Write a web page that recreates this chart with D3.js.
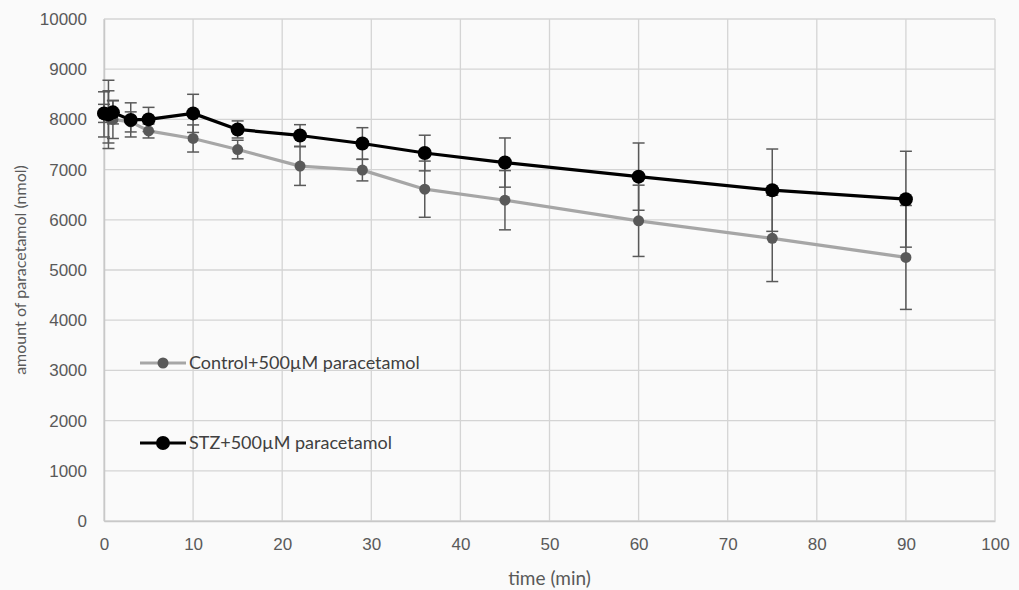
<!DOCTYPE html>
<html>
<head>
<meta charset="utf-8">
<script src="https://cdn.jsdelivr.net/npm/d3@7"></script>
<style>
  html, body { margin: 0; padding: 0; background: #fafafa; }
  svg { display: block; font-family: Lato, "Open Sans", sans-serif; }
</style>
</head>
<body>
<div id="chart"></div>
<script>
// sampling times (min)
const times = [0, 0.5, 1, 3, 5, 10, 15, 22, 29, 36, 45, 60, 75, 90];

const controlValues = [8100, 8050, 8000, 7950, 7770, 7620, 7400, 7070, 6990, 6610, 6390, 5980, 5630, 5250];
const controlErrors = [450, 520, 380, 200, 140, 270, 185, 385, 215, 560, 590, 710, 860, 1035];

const stzValues = [8120, 8100, 8140, 7990, 8000, 8120, 7800, 7680, 7520, 7330, 7140, 6860, 6590, 6410];
const stzErrors = [180, 680, 230, 340, 240, 380, 170, 215, 315, 355, 490, 670, 820, 955];

const xTicks = [0, 10, 20, 30, 40, 50, 60, 70, 80, 90, 100];
const yTicks = [0, 1000, 2000, 3000, 4000, 5000, 6000, 7000, 8000, 9000, 10000];

const series = [
  { name: "Control+500\u00b5M paracetamol", values: controlValues, errors: controlErrors,
    line: "#a6a6a6", marker: "#595959", r: 5.5, legendY: 363 },
  { name: "STZ+500\u00b5M paracetamol", values: stzValues, errors: stzErrors,
    line: "#000000", marker: "#000000", r: 7, legendY: 443 }
];

const width = 1019, height = 590;
const margin = { top: 19, right: 24, bottom: 69, left: 104 };

const svg = d3.select("#chart").append("svg")
  .attr("width", width)
  .attr("height", height);

const x = d3.scaleLinear().domain([0, 100]).range([margin.left, width - margin.right]);
const y = d3.scaleLinear().domain([0, 10000]).range([height - margin.bottom, margin.top]);

// grid
const grid = svg.append("g").attr("stroke", "#d4d4d4").attr("stroke-width", 1.3);
grid.selectAll("line.h").data(yTicks).join("line")
  .attr("x1", x(0)).attr("x2", x(100))
  .attr("y1", d => y(d)).attr("y2", d => y(d));
grid.selectAll("line.v").data(xTicks).join("line")
  .attr("y1", y(0)).attr("y2", y(10000))
  .attr("x1", d => x(d)).attr("x2", d => x(d));

// axes
const xAxis = svg.append("g")
  .attr("transform", `translate(0,${y(0)})`)
  .call(d3.axisBottom(x).tickValues(xTicks).tickSize(0).tickPadding(17));
const yAxis = svg.append("g")
  .attr("transform", `translate(${x(0)},0)`)
  .call(d3.axisLeft(y).tickValues(yTicks).tickSize(0).tickPadding(17).tickFormat(d3.format("d")));
[xAxis, yAxis].forEach(a => {
  a.select(".domain").attr("stroke", "#c8c8c8").attr("stroke-width", 1.5);
  a.selectAll("text").attr("fill", "#595959").style("font-size", "17px");
});

svg.append("text")
  .attr("x", (x(0) + x(100)) / 2).attr("y", 585)
  .attr("text-anchor", "middle")
  .attr("fill", "#595959").style("font-size", "19px")
  .text("time (min)");

svg.append("text")
  .attr("transform", `translate(26,${(y(0) + y(10000)) / 2}) rotate(-90)`)
  .attr("text-anchor", "middle")
  .attr("fill", "#595959").style("font-size", "16px")
  .text("amount of paracetamol (nmol)");

// series
const line = d3.line().x(d => x(d.t)).y(d => y(d.v));

series.forEach(s => {
  const pts = times.map((t, i) => ({ t, v: s.values[i], e: s.errors[i] }));
  const g = svg.append("g");

  g.append("path").datum(pts)
    .attr("fill", "none")
    .attr("stroke", s.line)
    .attr("stroke-width", 3.2)
    .attr("stroke-linejoin", "round")
    .attr("d", line);

  const err = g.append("g").attr("stroke", "#595959").attr("stroke-width", 1.5);
  err.selectAll("line.bar").data(pts).join("line")
    .attr("x1", d => x(d.t)).attr("x2", d => x(d.t))
    .attr("y1", d => y(d.v + d.e)).attr("y2", d => y(d.v - d.e));
  err.selectAll("line.top").data(pts).join("line")
    .attr("x1", d => x(d.t) - 6).attr("x2", d => x(d.t) + 6)
    .attr("y1", d => y(d.v + d.e)).attr("y2", d => y(d.v + d.e));
  err.selectAll("line.bot").data(pts).join("line")
    .attr("x1", d => x(d.t) - 6).attr("x2", d => x(d.t) + 6)
    .attr("y1", d => y(d.v - d.e)).attr("y2", d => y(d.v - d.e));

  g.selectAll("circle").data(pts).join("circle")
    .attr("cx", d => x(d.t)).attr("cy", d => y(d.v))
    .attr("r", s.r)
    .attr("fill", s.marker);

  // legend
  const lg = svg.append("g");
  lg.append("line")
    .attr("x1", 140).attr("x2", 186)
    .attr("y1", s.legendY).attr("y2", s.legendY)
    .attr("stroke", s.line).attr("stroke-width", 3.2);
  lg.append("circle")
    .attr("cx", 163).attr("cy", s.legendY).attr("r", s.r)
    .attr("fill", s.marker);
  lg.append("text")
    .attr("x", 189).attr("y", s.legendY + 6)
    .attr("fill", "#404040").style("font-size", "18px")
    .text(s.name);
});
</script>
</body>
</html>
